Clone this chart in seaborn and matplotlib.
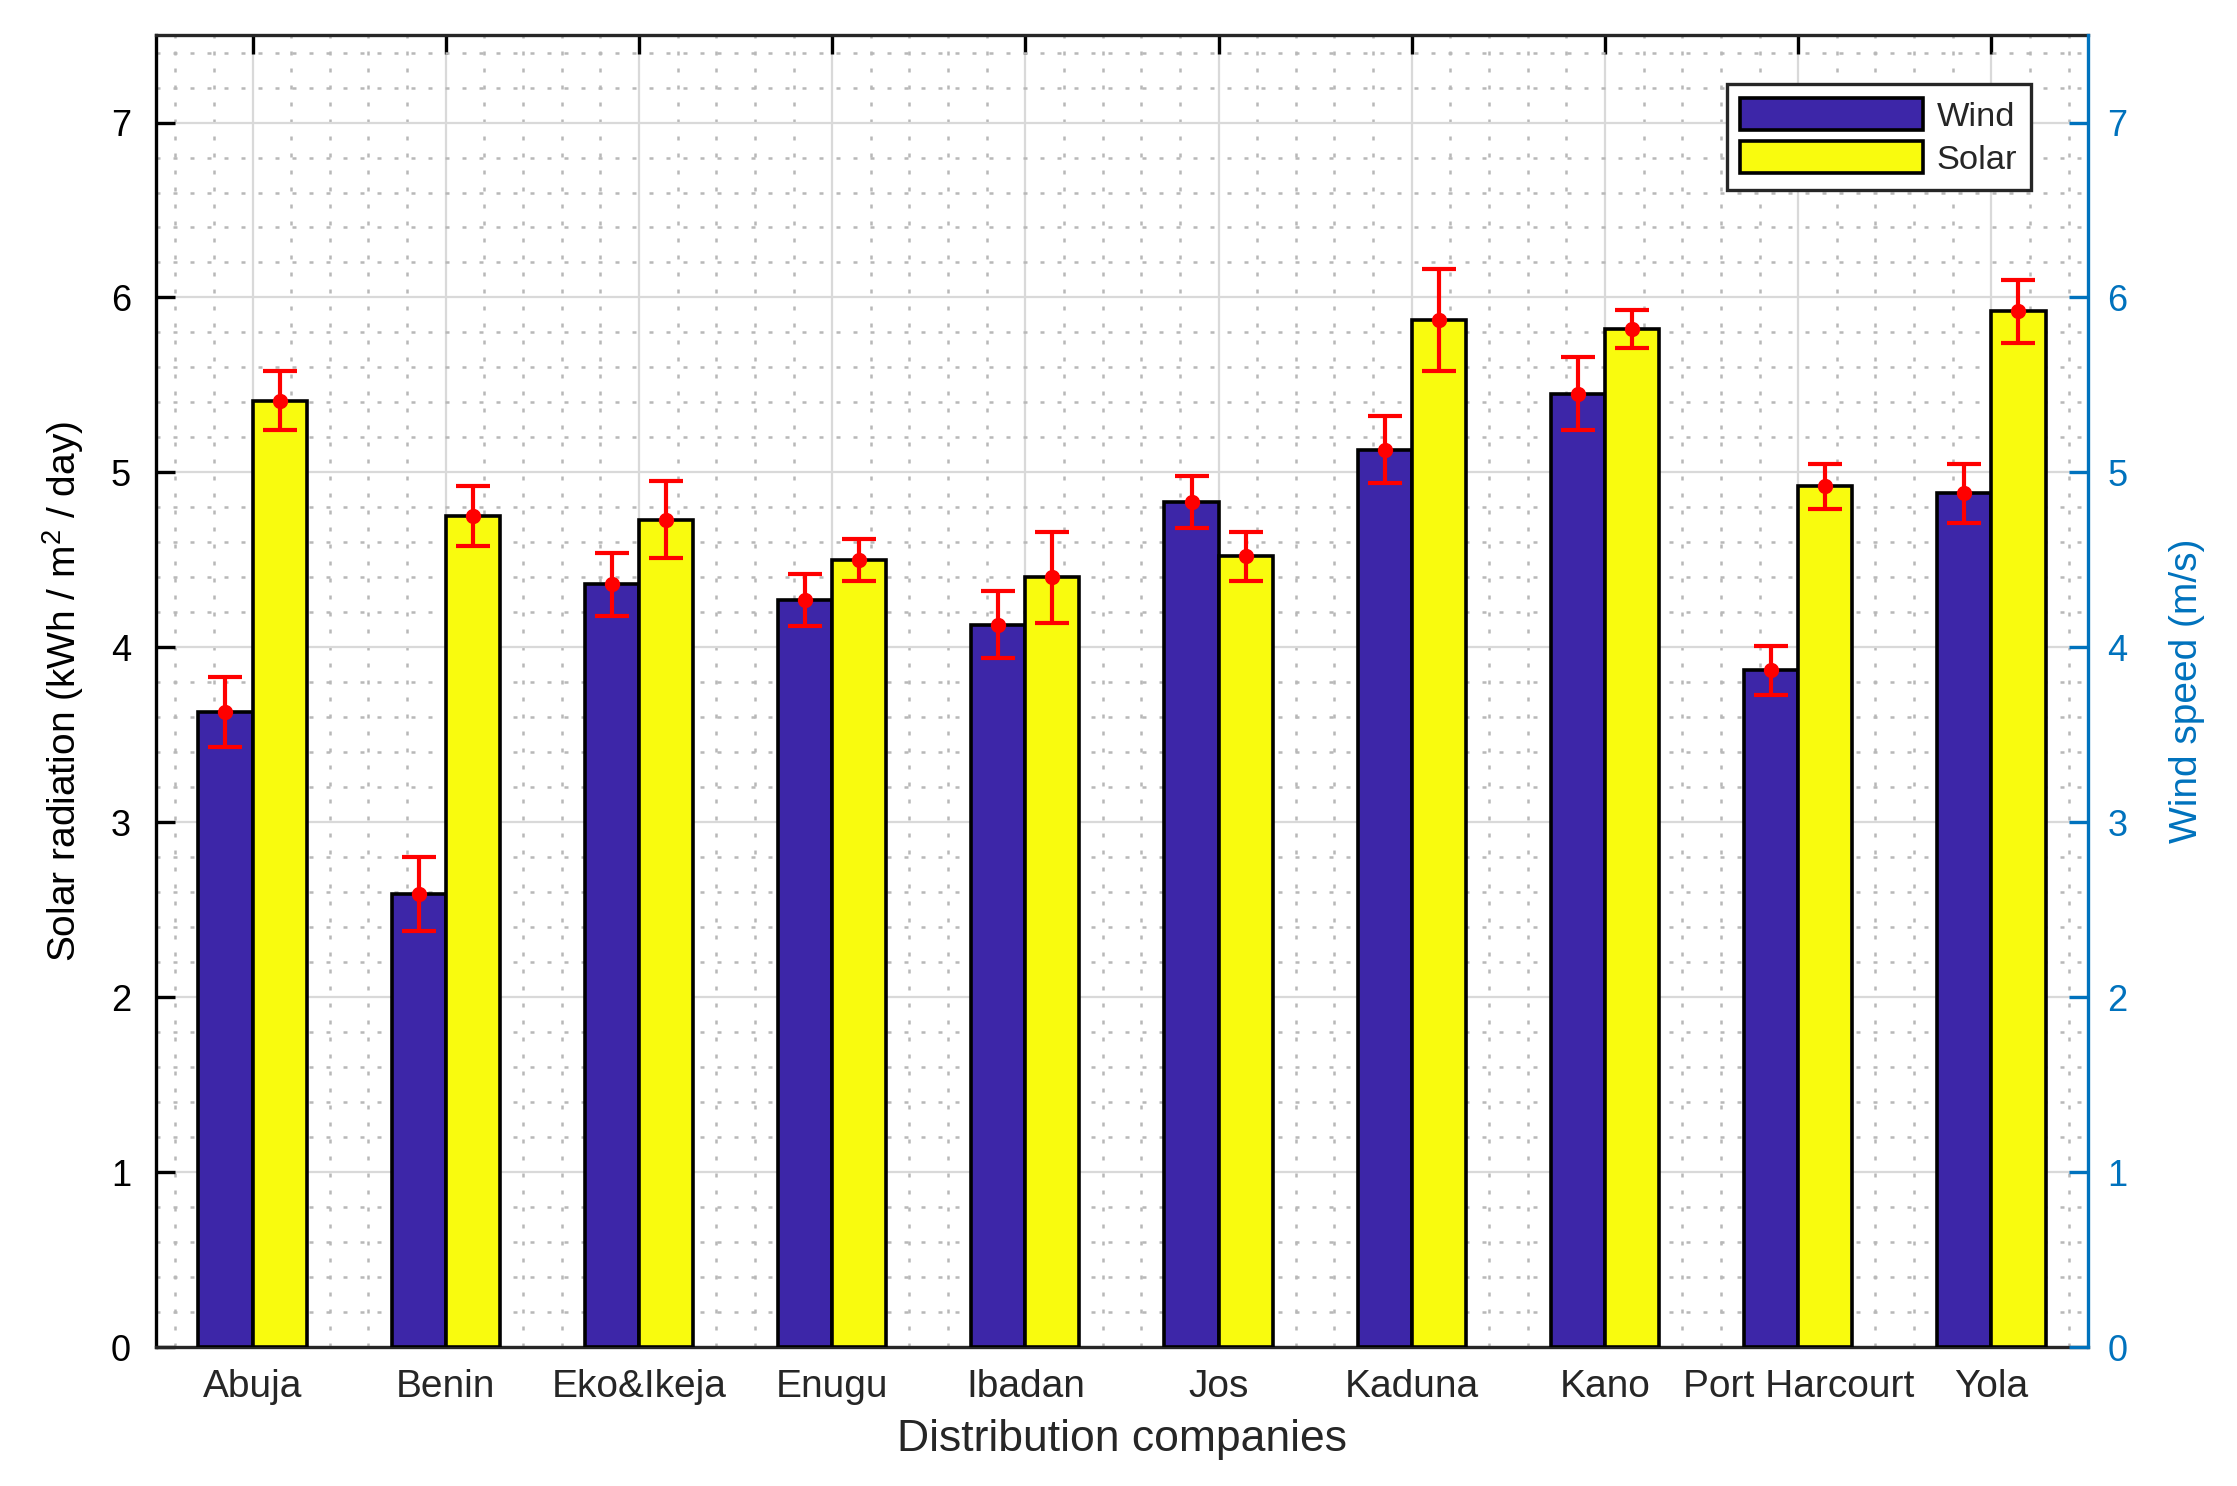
import numpy as np
import pandas as pd
import matplotlib
matplotlib.use("Agg")
import matplotlib.pyplot as plt
import seaborn as sns
from matplotlib.ticker import MultipleLocator

# Datos
companies = ["Abuja", "Benin", "Eko&Ikeja", "Enugu", "Ibadan",
             "Jos", "Kaduna", "Kano", "Port Harcourt", "Yola"]
wind_speed = [3.63, 2.59, 4.36, 4.27, 4.13, 4.83, 5.13, 5.45, 3.87, 4.88]
wind_err = [0.20, 0.21, 0.18, 0.15, 0.19, 0.15, 0.19, 0.21, 0.14, 0.17]
solar_rad = [5.41, 4.75, 4.73, 4.50, 4.40, 4.52, 5.87, 5.82, 4.92, 5.92]
solar_err = [0.17, 0.17, 0.22, 0.12, 0.26, 0.14, 0.29, 0.11, 0.13, 0.18]
series = ["Wind", "Solar"]
y_ticks = [0, 1, 2, 3, 4, 5, 6, 7]

WIND_COLOR = "#3D26A8"
SOLAR_COLOR = "#F9FB0E"
AXIS_BLUE = "#0072BD"

df = pd.DataFrame({
    "company": companies * 2,
    "source": [series[0]] * len(companies) + [series[1]] * len(companies),
    "value": wind_speed + solar_rad,
})

sns.set_theme(style="white")
plt.rcParams["font.family"] = ["Liberation Sans", "DejaVu Sans"]
plt.rcParams["mathtext.fontset"] = "custom"
plt.rcParams["mathtext.rm"] = "Liberation Sans"
plt.rcParams["mathtext.it"] = "Liberation Sans:italic"
plt.rcParams["mathtext.bf"] = "Liberation Sans:bold"

fig, ax = plt.subplots(figsize=(11.185, 7.43), dpi=200)
fig.subplots_adjust(left=0.0697, right=0.9334, bottom=0.0935, top=0.9764)

sns.barplot(
    data=df, x="company", y="value", hue="source", order=companies,
    hue_order=series, palette={"Wind": WIND_COLOR, "Solar": SOLAR_COLOR},
    width=0.56, gap=0, saturation=1, edgecolor="black", linewidth=1.3,
    errorbar=None, legend=False, ax=ax, zorder=3,
)

# Barras de error en el centro de cada barra
for cont, err in zip(ax.containers, [wind_err, solar_err]):
    xs = [p.get_x() + p.get_width() / 2 for p in cont]
    ys = [p.get_height() for p in cont]
    ax.errorbar(xs, ys, yerr=err, fmt="o", color="red", ms=4.5,
                capsize=6.1, capthick=1.5, elinewidth=1.5, zorder=5)

ax.set_xlim(-0.5, len(companies) - 0.5)
ax.set_ylim(0, 7.5)
ax.set_yticks(y_ticks)
ax.xaxis.set_minor_locator(MultipleLocator(0.2))
ax.yaxis.set_minor_locator(MultipleLocator(0.2))

ax.set_axisbelow(True)
ax.grid(which="major", color="#D9D9D9", linewidth=0.8, zorder=0)
ax.grid(which="minor", color="#B8B8B8", linewidth=0.9,
        linestyle=(0, (1.6, 5.2)), zorder=0)

ax.tick_params(axis="both", which="major", direction="in", length=7,
               width=1.2, top=True, right=False, color="black")
ax.tick_params(axis="y", which="major", labelsize=13, pad=9,
               labelcolor="black")
ax.tick_params(axis="x", which="major", labelsize=14, pad=8,
               labelcolor="#262626")
ax.tick_params(which="minor", length=0)

ax.set_xlabel("Distribution companies", fontsize=16, color="#262626",
              labelpad=5)
ax.set_ylabel("Solar radiation (kWh / m$^2$ / day)", fontsize=14,
              color="black", labelpad=9)

for side in ["top", "bottom"]:
    ax.spines[side].set_color("#262626")
    ax.spines[side].set_linewidth(1.2)
ax.spines["left"].set_color("black")
ax.spines["left"].set_linewidth(1.2)
ax.spines["right"].set_visible(False)

# Eje derecho: velocidad del viento
ax2 = ax.twinx()
ax2.set_ylim(0, 7.5)
ax2.set_yticks(y_ticks)
ax2.tick_params(axis="y", which="major", direction="in", length=7,
                width=1.2, colors=AXIS_BLUE, labelsize=13, pad=7)
ax2.tick_params(which="minor", length=0)
ax2.set_ylabel("Wind speed (m/s)", fontsize=14, color=AXIS_BLUE,
               labelpad=15)
for side in ["top", "bottom", "left"]:
    ax2.spines[side].set_visible(False)
ax2.spines["right"].set_color(AXIS_BLUE)
ax2.spines["right"].set_linewidth(1.2)

leg = ax.legend(
    ax.containers[:2], series, loc="upper right",
    bbox_to_anchor=(0.9705, 0.9627), borderaxespad=0, fontsize=12.4,
    handlelength=5.3, handleheight=1.05, frameon=True, fancybox=False,
    framealpha=1, borderpad=0.4, labelspacing=0.25, handletextpad=0.4,
)
leg.get_frame().set_edgecolor("#262626")
leg.get_frame().set_linewidth(1.2)
leg.set_zorder(10)

fig.savefig("out.png", dpi=200)
